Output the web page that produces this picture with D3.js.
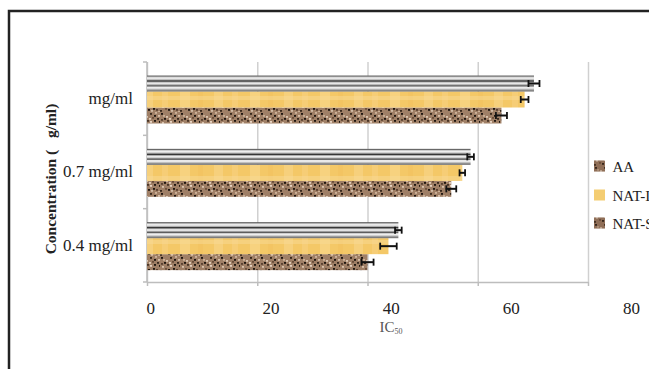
<!DOCTYPE html>
<html>
<head>
<meta charset="utf-8">
<script src="https://d3js.org/d3.v7.min.js"></script>
<style>
  body { margin: 0; background: #fff; overflow: hidden; }
  text { font-family: "Liberation Serif", "DejaVu Serif", serif; }
</style>
</head>
<body>
<div id="viz"></div>
<script>
  // data
  let categories = ['mg/ml', '0.7 mg/ml', '0.4 mg/ml'];
  let seriesNames = ['AA', 'NAT-I', 'NAT-S'];
  let aaValues = [64.3, 55.2, 40.0];
  let natIValues = [68.5, 57.2, 43.8];
  let natSValues = [70.2, 58.7, 45.6];
  let aaErr = [1.0, 0.9, 1.1];
  let natIErr = [0.7, 0.5, 1.5];
  let natSErr = [1.0, 0.6, 0.6];
  let xTicks = [0, 20, 40, 60, 80];

  let width = 649, height = 369;
  let plotLeft = 147, plotRight = 588, plotTop = 62, plotBottom = 282;

  let svg = d3.select('#viz').append('svg')
      .attr('width', width)
      .attr('height', height);

  // textures for the bars
  let defs = svg.append('defs');

  let grey = defs.append('pattern').attr('id', 'greyStripes')
      .attr('patternUnits', 'objectBoundingBox')
      .attr('patternContentUnits', 'objectBoundingBox')
      .attr('width', 1).attr('height', 1);
  grey.append('rect').attr('width', 1).attr('height', 1).attr('fill', '#c4c4c4');
  [[0, 0.08, '#555'], [0.1, 0.12, '#f2f2f2'], [0.3, 0.1, '#222'], [0.42, 0.12, '#eeeeee'],
   [0.6, 0.08, '#444'], [0.7, 0.12, '#f0f0f0'], [0.9, 0.1, '#777']].forEach(s => {
    grey.append('rect').attr('x', 0).attr('y', s[0]).attr('width', 1).attr('height', s[1]).attr('fill', s[2]);
  });

  let wood = defs.append('pattern').attr('id', 'wood')
      .attr('patternUnits', 'userSpaceOnUse')
      .attr('width', 70).attr('height', 16);
  wood.append('rect').attr('width', 70).attr('height', 16).attr('fill', '#f4c867');
  [[4, 9, '#f7d58a'], [22, 6, '#f6d081'], [40, 10, '#f8d88f'], [58, 5, '#f2c25f']].forEach(s => {
    wood.append('rect').attr('x', s[0]).attr('y', 0).attr('width', s[1]).attr('height', 16)
        .attr('fill', s[2]).attr('opacity', 0.6);
  });
  wood.append('rect').attr('y', 0).attr('width', 70).attr('height', 4).attr('fill', '#f8da96').attr('opacity', 0.5);

  let granite = defs.append('pattern').attr('id', 'granite')
      .attr('patternUnits', 'userSpaceOnUse')
      .attr('width', 20).attr('height', 16);
  granite.append('rect').attr('width', 20).attr('height', 16).attr('fill', '#9f7f66');
  let specks = [[1,1,'#1f1610'],[6,4,'#dcc6b1'],[10,1,'#3a2a1e'],[14,8,'#1f1610'],[18,3,'#d8bfa8'],
                [2,10,'#d9c2ac'],[8,13,'#1f1610'],[16,13,'#5a4232'],[19,9,'#1f1610'],[12,5,'#6b4e3a'],
                [4,6,'#1f1610'],[15,0,'#cdb29a'],[0,14,'#3a2a1e'],[10,9,'#e6d3c2'],[13,12,'#1f1610'],
                [7,8,'#4a3526'],[3,3,'#c8ae96'],[17,6,'#3a2a1e'],[11,14,'#d2bba5'],[5,12,'#6e523e'],
                [9,6,'#e0ccb8'],[1,7,'#5a4232'],[14,3,'#1f1610'],[18,15,'#c9af97']];
  specks.forEach(s => {
    granite.append('rect').attr('x', s[0]).attr('y', s[1]).attr('width', 2).attr('height', 1.8).attr('fill', s[2]);
  });

  // frame
  svg.append('rect').attr('x', 9).attr('y', 11).attr('width', 700).attr('height', 400)
      .attr('fill', 'none').attr('stroke', '#222').attr('stroke-width', 2.5);

  let x = d3.scaleLinear().domain([0, 80]).range([plotLeft, plotRight]);
  // tick labels in the picture sit on a wider spacing than the grid
  let xLabel = d3.scaleLinear().domain([0, 80]).range([150.3, 631]);
  let y0 = d3.scaleBand().domain(categories).range([plotTop, plotBottom]);
  let y1 = d3.scaleBand().domain(['NAT-S', 'NAT-I', 'AA']).range([13.5, 61.5]);

  // grid
  svg.append('g')
      .attr('transform', `translate(0,${plotBottom})`)
      .call(d3.axisBottom(x).tickValues(xTicks).tickSize(-(plotBottom - plotTop)).tickFormat(''))
      .call(g => g.select('.domain').remove())
      .call(g => g.selectAll('line').attr('stroke', '#d0d0d0').attr('stroke-width', 1.5));

  // bottom axis
  svg.append('g')
      .attr('transform', `translate(0,${plotBottom})`)
      .call(d3.axisBottom(x).tickValues(xTicks).tickSize(4).tickSizeOuter(0).tickFormat(''))
      .call(g => g.selectAll('.domain, line').attr('stroke', '#bdbdbd').attr('stroke-width', 1.5));

  svg.append('g')
      .attr('transform', `translate(0,${plotBottom})`)
      .call(d3.axisBottom(xLabel).tickValues(xTicks).tickSize(0).tickPadding(20))
      .call(g => g.select('.domain').remove())
      .call(g => g.selectAll('text').attr('font-family', '"Liberation Serif", serif')
          .attr('font-size', 17).attr('fill', '#222'));

  // left axis
  svg.append('line').attr('x1', plotLeft).attr('x2', plotLeft).attr('y1', plotTop).attr('y2', plotBottom)
      .attr('stroke', '#bdbdbd').attr('stroke-width', 1.5);
  let bounds = categories.map(c => y0(c)).concat([plotBottom]);
  svg.selectAll('.ytick').data(bounds).enter().append('line')
      .attr('x1', plotLeft - 4).attr('x2', plotLeft).attr('y1', d => d).attr('y2', d => d)
      .attr('stroke', '#bdbdbd').attr('stroke-width', 1.5);

  svg.append('g')
      .attr('transform', `translate(${plotLeft - 11},0)`)
      .call(d3.axisLeft(y0).tickSize(0))
      .call(g => g.select('.domain').remove())
      .call(g => g.selectAll('text').attr('font-family', '"Liberation Serif", serif')
          .attr('font-size', 17).attr('fill', '#222'));

  // bars
  let series = [
    {name: 'AA', values: aaValues, err: aaErr, fill: 'url(#granite)'},
    {name: 'NAT-I', values: natIValues, err: natIErr, fill: 'url(#wood)'},
    {name: 'NAT-S', values: natSValues, err: natSErr, fill: 'url(#greyStripes)'}
  ];
  let rows = [];
  series.forEach(s => categories.forEach((c, i) => rows.push({s: s, c: c, v: s.values[i], e: s.err[i]})));

  svg.selectAll('.bar').data(rows).enter().append('rect')
      .attr('class', 'bar')
      .attr('x', x(0))
      .attr('y', d => y0(d.c) + y1(d.s.name))
      .attr('width', d => x(d.v) - x(0))
      .attr('height', y1.bandwidth())
      .attr('fill', d => d.s.fill);

  let eb = svg.selectAll('.err').data(rows).enter().append('g').attr('class', 'err')
      .attr('transform', d => `translate(0,${y0(d.c) + y1(d.s.name) + y1.bandwidth() / 2})`);
  eb.append('line').attr('x1', d => x(d.v - d.e)).attr('x2', d => x(d.v + d.e))
      .attr('stroke', '#111').attr('stroke-width', 2);
  eb.append('line').attr('x1', d => x(d.v - d.e)).attr('x2', d => x(d.v - d.e)).attr('y1', -3.5).attr('y2', 3.5)
      .attr('stroke', '#111').attr('stroke-width', 1.8);
  eb.append('line').attr('x1', d => x(d.v + d.e)).attr('x2', d => x(d.v + d.e)).attr('y1', -3.5).attr('y2', 3.5)
      .attr('stroke', '#111').attr('stroke-width', 1.8);

  // axis titles
  svg.append('text')
      .attr('transform', 'translate(56,179) rotate(-90)')
      .attr('text-anchor', 'middle')
      .attr('font-size', 15.5).attr('font-weight', 'bold').attr('fill', '#222')
      .attr('xml:space', 'preserve')
      .text('Concentration (   g/ml)');

  let ic = svg.append('text').attr('x', 391).attr('y', 332).attr('text-anchor', 'middle')
      .attr('font-size', 15).attr('fill', '#555');
  ic.append('tspan').text('IC');
  ic.append('tspan').attr('font-size', 8).attr('dy', 2).text('50');

  // legend
  let legendFill = ['url(#granite)', '#f4cd72', 'url(#granite)'];
  let legendY = [166, 195, 223];
  let lg = svg.selectAll('.legend').data(seriesNames).enter().append('g')
      .attr('transform', (d, i) => `translate(594,${legendY[i]})`);
  lg.append('rect').attr('x', 0).attr('y', -5.5).attr('width', 11).attr('height', 11)
      .attr('fill', (d, i) => legendFill[i]);
  lg.append('rect').attr('x', 0).attr('y', -5.5).attr('width', 11).attr('height', 11)
      .attr('fill', (d, i) => i === 1 ? 'none' : '#6b4a36').attr('opacity', 0.3);
  lg.append('text').attr('x', 18.5).attr('y', 5.5).attr('font-size', 15).attr('fill', '#222').text(d => d);
</script>
</body>
</html>
